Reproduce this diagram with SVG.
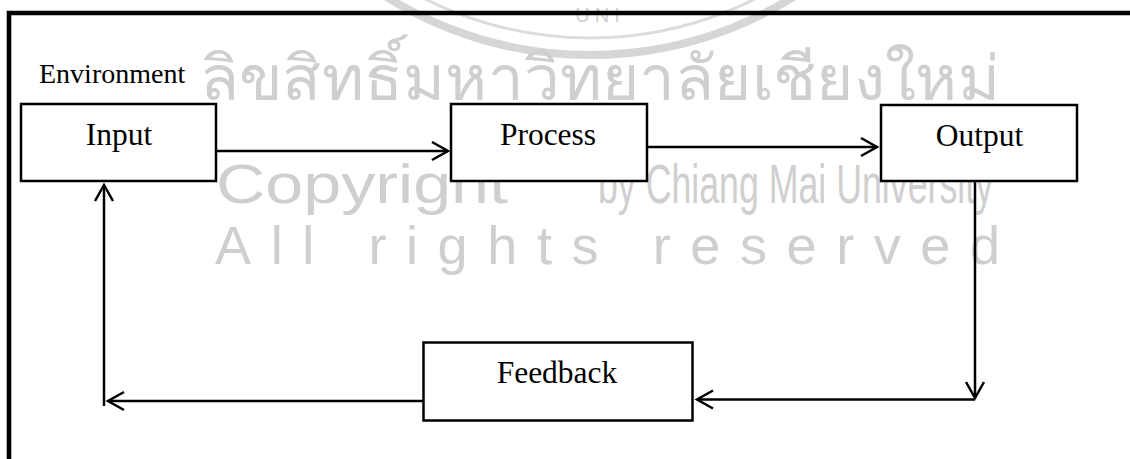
<svg xmlns="http://www.w3.org/2000/svg" width="1130" height="459" viewBox="0 0 1130 459">
<style>
.box{fill:#fff;stroke:#000;stroke-width:2.5}
.lbl{font-family:"Liberation Serif","Times New Roman",serif;font-size:31.5px;fill:#000;text-anchor:middle}
.env{font-family:"Liberation Serif","Times New Roman",serif;font-size:28px;fill:#000}
.wm{fill:#cfcfcf;font-family:"Liberation Sans",Arial,sans-serif}
.conn{fill:none;stroke:#000;stroke-width:2.5}
</style>
<defs>
<marker id="arr" markerUnits="userSpaceOnUse" viewBox="-18 -11 20 22" refX="0" refY="0" markerWidth="20" markerHeight="22" orient="auto" overflow="visible">
<path d="M-16,-9 L0,0 L-16,9" fill="none" stroke="#000" stroke-width="2.5"/>
</marker>
</defs>
<rect width="1130" height="459" fill="#fff"/>
<g id="watermark">
<circle cx="590" cy="-330" r="385" fill="none" stroke="#d6d6d6" stroke-width="8"/>
<circle cx="590" cy="-330" r="368" fill="none" stroke="#dcdcdc" stroke-width="3"/>
<text class="wm" x="600" y="22" font-size="20" text-anchor="middle" letter-spacing="5">UNI</text>
<text class="wm" x="200" y="100" font-size="62" font-family="'Loma','Garuda','Noto Serif Thai','Noto Sans Thai',sans-serif" textLength="800" lengthAdjust="spacingAndGlyphs">ลิขสิทธิ์มหาวิทยาลัยเชียงใหม่</text>
<text class="wm" x="216" y="203" font-size="56" textLength="292" lengthAdjust="spacingAndGlyphs">Copyright</text>
<text class="wm" x="514" y="172" font-size="42">©</text>
<text class="wm" x="598" y="203" font-size="56" textLength="395" lengthAdjust="spacingAndGlyphs">by Chiang Mai University</text>
<text class="wm" x="215" y="264" font-size="54" textLength="785" lengthAdjust="spacing">All rights reserved</text>
</g>
<g id="frame">
<path d="M9,459 V13 H1130" fill="none" stroke="#000" stroke-width="4.6"/>
</g>
<g id="environment">
<text class="env" x="39" y="83">Environment</text>
</g>
<g id="connectors">
<path class="conn" d="M217,151 H448" marker-end="url(#arr)"/>
<path class="conn" d="M648,147 H877" marker-end="url(#arr)"/>
<path class="conn" d="M975,182 V398" marker-end="url(#arr)"/>
<path class="conn" d="M975,399.5 H697" marker-end="url(#arr)"/>
<path class="conn" d="M423,401 H108" marker-end="url(#arr)"/>
<path class="conn" d="M104,406 V185" marker-end="url(#arr)"/>
</g>
<g id="input">
<rect class="box" x="21" y="104" width="195" height="77"/>
<text class="lbl" x="119" y="145">Input</text>
</g>
<g id="process">
<rect class="box" x="451" y="104" width="196" height="77"/>
<text class="lbl" x="548" y="145">Process</text>
</g>
<g id="output">
<rect class="box" x="881" y="105" width="196" height="76"/>
<text class="lbl" x="979.5" y="146">Output</text>
</g>
<g id="feedback">
<rect class="box" x="423.5" y="342.5" width="269" height="78"/>
<text class="lbl" x="557" y="383">Feedback</text>
</g>
</svg>
